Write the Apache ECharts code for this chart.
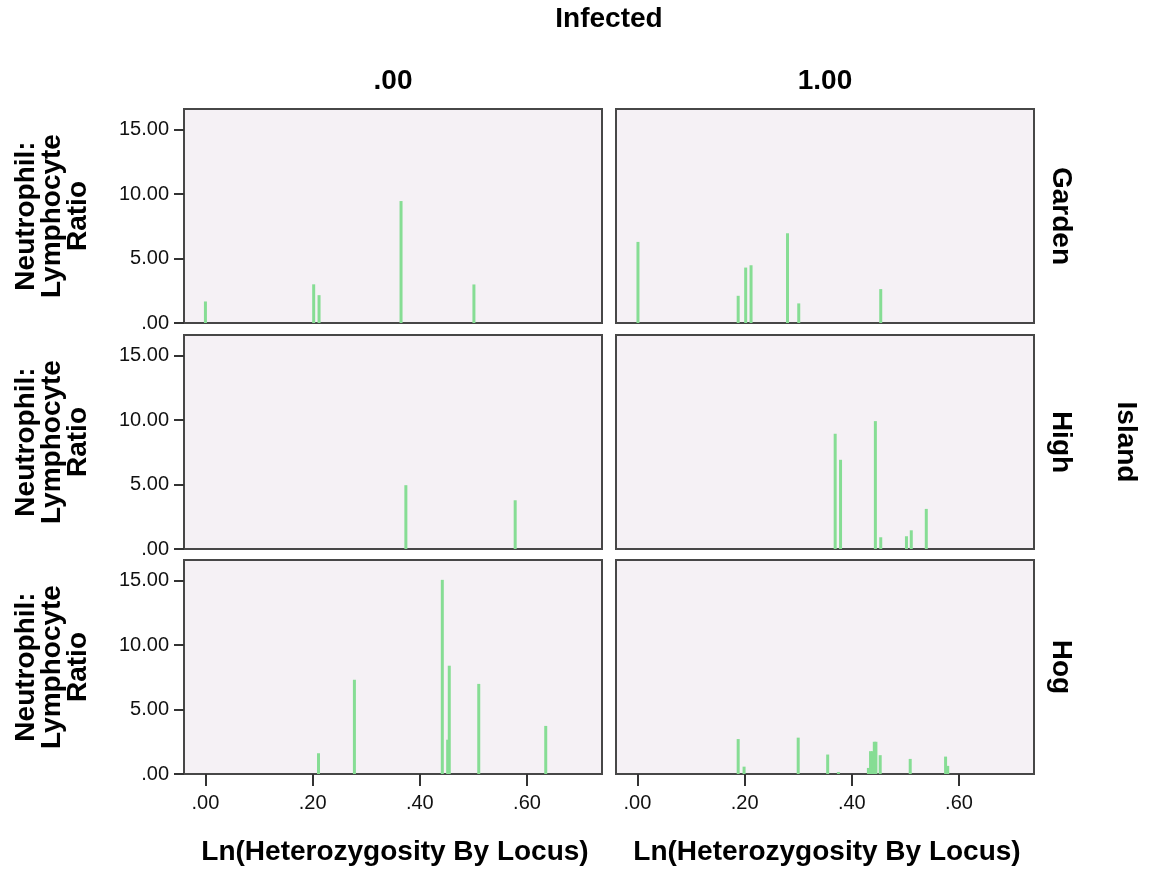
<!DOCTYPE html>
<html>
<head>
<meta charset="utf-8">
<script src="https://cdn.jsdelivr.net/npm/echarts@6/dist/echarts.min.js"></script>
<style>
  html, body { margin: 0; padding: 0; background: #fff; }
  #chart { width: 1154px; height: 871px; }
</style>
</head>
<body>
<div id="chart"></div>
<script>
// tick values + panel labels
const xTicks = [0, 0.2, 0.4, 0.6]
const yTicks = [0, 5, 10, 15]
const colLabels = ['.00', '1.00']
const rowLabels = ['Garden', 'High', 'Hog']

// Garden
const gardenX0 = [0.000, 0.202, 0.212, 0.365, 0.501]
const gardenY0 = [1.67, 3.00, 2.16, 9.46, 2.99]
const gardenX1 = [0.001, 0.188, 0.202, 0.212, 0.280, 0.301, 0.454]
const gardenY1 = [6.29, 2.11, 4.30, 4.48, 6.96, 1.52, 2.63]

// High
const highX0 = [0.374, 0.578]
const highY0 = [4.95, 3.78]
const highX1 = [0.369, 0.379, 0.444, 0.454, 0.502, 0.511, 0.539]
const highY1 = [8.94, 6.92, 9.92, 0.91, 0.99, 1.45, 3.11]

// Hog
const hogX0 = [0.211, 0.278, 0.442, 0.455, 0.452, 0.510, 0.635]
const hogY0 = [1.61, 7.31, 15.06, 8.40, 2.66, 6.99, 3.73]
const hogX1 = [0.188, 0.199, 0.300, 0.355, 0.375, 0.431, 0.435, 0.439, 0.442, 0.445, 0.453, 0.509, 0.575, 0.579]
const hogY1 = [2.71, 0.57, 2.82, 1.51, 0.15, 0.47, 1.77, 1.77, 2.50, 2.50, 1.46, 1.17, 1.35, 0.63]

const panels = [
  [gardenX0, gardenY0], [gardenX1, gardenY1],
  [highX0, highY0], [highX1, highY1],
  [hogX0, hogY0], [hogX1, hogY1]
]

const FONT = '"Liberation Sans", Arial, sans-serif'
const colLeft = [184, 616]
const colWidth = 418
const rowTop = [109, 335, 560]
const rowHeight = 214

const fmt = v => v.toFixed(2).replace(/^0/, '')

const grids = [], xAxes = [], yAxes = [], series = []
panels.forEach(([xs, ys], i) => {
  const row = Math.floor(i / 2), col = i % 2
  grids.push({
    left: colLeft[col], top: rowTop[row], width: colWidth, height: rowHeight,
    show: true, backgroundColor: '#f5f1f5', borderColor: '#474747', borderWidth: 2
  })
  const bottomRow = row === 2
  xAxes.push({
    type: 'value', gridIndex: i, min: -0.04, max: 0.74,
    axisLine: { show: false, onZero: false },
    splitLine: { show: false },
    axisTick: { show: bottomRow, customValues: xTicks, length: 12, lineStyle: { color: '#333', width: 2 } },
    axisLabel: { show: bottomRow, customValues: xTicks, formatter: fmt, margin: 19, color: '#111', fontSize: 20, fontFamily: FONT }
  })
  yAxes.push({
    type: 'value', gridIndex: i, min: 0, max: 16.6,
    axisLine: { show: false, onZero: false },
    splitLine: { show: false },
    axisTick: { show: col === 0, customValues: yTicks, length: 10, lineStyle: { color: '#333', width: 2 } },
    axisLabel: { show: col === 0, customValues: yTicks, formatter: fmt, margin: 15, color: '#111', fontSize: 20, fontFamily: FONT }
  })
  series.push({
    type: 'bar', xAxisIndex: i, yAxisIndex: i,
    barWidth: 3,
    itemStyle: { color: '#86dd94' },
    data: xs.map((x, k) => [x, ys[k]])
  })
})

const boldText = (text, x, y, rotation) => ({
  type: 'text', x, y, rotation: rotation || 0,
  style: {
    text, font: 'bold 28px ' + FONT, fill: '#000',
    align: 'center', verticalAlign: 'middle',
    textAlign: 'center', textVerticalAlign: 'middle', lineHeight: 26
  }
})

const graphics = [boldText('Infected', 609, 19)]
colLabels.forEach((t, c) => {
  graphics.push(boldText(t, colLeft[c] + colWidth / 2, 81))
  graphics.push(boldText('Ln(Heterozygosity By Locus)', colLeft[c] + colWidth / 2 + 2, 852))
})
rowLabels.forEach((t, r) => {
  const cy = rowTop[r] + rowHeight / 2
  graphics.push(boldText('Neutrophil:\nLymphocyte\nRatio', 52, cy, Math.PI / 2))
  graphics.push(boldText(t, 1061, cy, -Math.PI / 2))
})
graphics.push(boldText('Island', 1126, rowTop[1] + rowHeight / 2, -Math.PI / 2))

const chart = echarts.init(document.getElementById('chart'))
chart.setOption({
  animation: false,
  grid: grids,
  xAxis: xAxes,
  yAxis: yAxes,
  series,
  graphic: graphics
})
</script>
</body>
</html>
